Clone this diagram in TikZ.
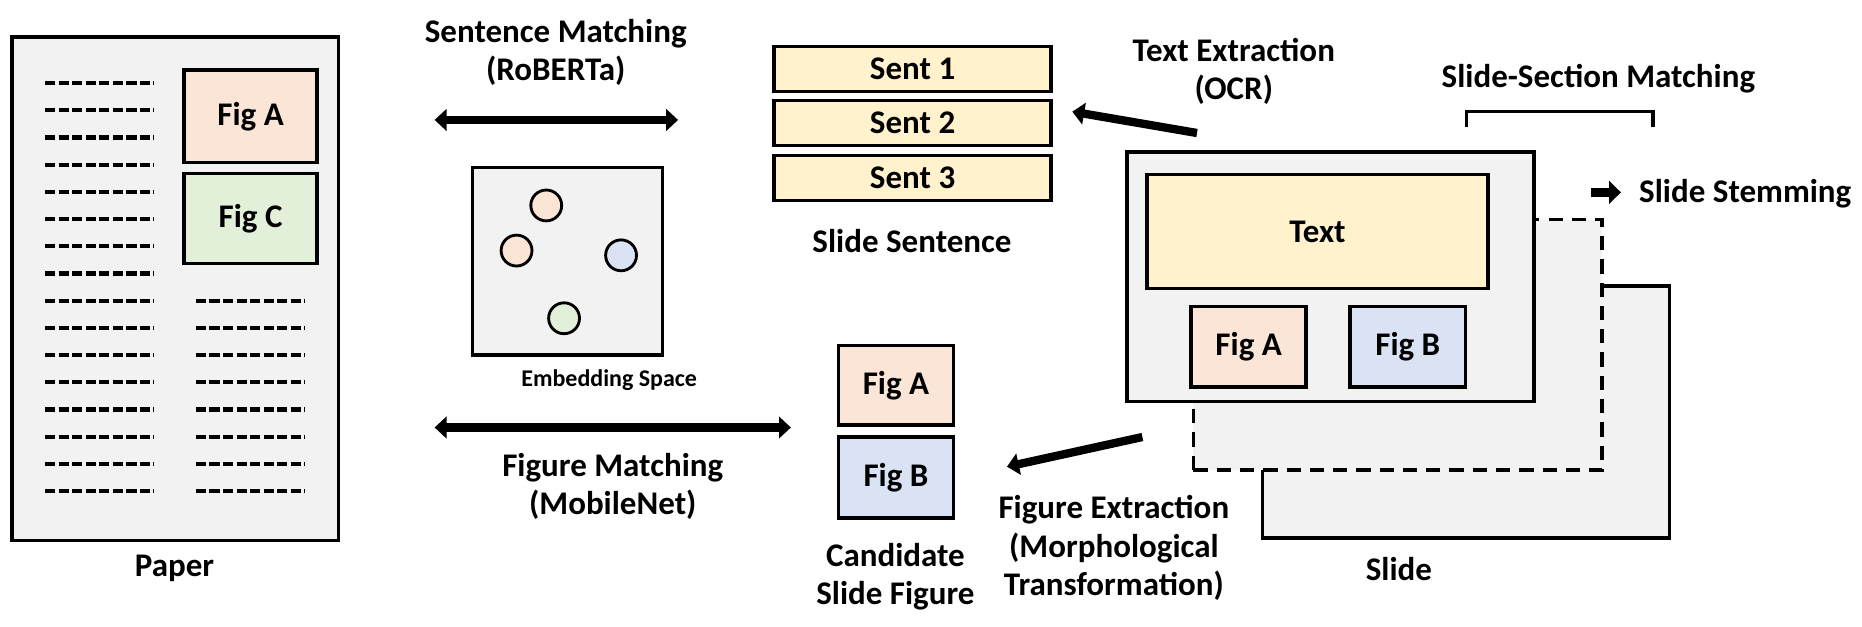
\documentclass[tikz,border=0pt]{standalone}
\usepackage{fontspec}
\setmainfont{Carlito}
\usetikzlibrary{arrows.meta}
\newcommand\lblfont{\fontsize{13.9}{16.2}\selectfont\bfseries}
\newcommand\smallfont{\fontsize{10.1}{12}\selectfont\bfseries}
\definecolor{bggray}{HTML}{F2F2F2}
\definecolor{peach}{HTML}{FBE5D6}
\definecolor{lgreen}{HTML}{E2F0D9}
\definecolor{lyellow}{HTML}{FFF2CC}
\definecolor{lblue}{HTML}{DAE3F3}
\tikzset{
  box/.style={draw=black, line width=1.5pt, inner sep=0pt, font=\lblfont},
  lbl/.style={font=\lblfont, align=center, inner sep=0pt},
  dot/.style={circle, draw=black, line width=1.2pt, minimum size=13pt, inner sep=0pt},
  txtline/.style={line width=1.8pt, dash pattern=on 4.3pt off 1.4pt},
  bigarrow/.style={line width=3.5pt, -{Triangle[length=5pt,width=9pt]}},
  dblarrow/.style={line width=3.5pt, {Triangle[length=5pt,width=9pt]}-{Triangle[length=5pt,width=9pt]}},
}
\begin{document}
\begin{tikzpicture}[x=0.5pt,y=-0.5pt]
\useasboundingbox (0,0) rectangle (1568,527.2);
% ---------- Paper ----------
\node[box, fill=bggray, minimum width=137.5pt, minimum height=212pt] (paper) at (147.5,243) {};
\node[box, fill=peach, minimum width=56pt, minimum height=39pt] (pfa) at (211,98) {Fig A};
\node[box, fill=lgreen, minimum width=56pt, minimum height=38pt] (pfc) at (211,184) {Fig C};
\foreach \k in {0,...,15} {
  \draw[txtline] (38,70+22.9*\k) -- (130,70+22.9*\k);
}
\foreach \k in {8,...,15} {
  \draw[txtline] (165,70+22.9*\k) -- (257,70+22.9*\k);
}
\node[lbl] (paperlbl) at (147,479) {Paper};
% ---------- Sentence matching ----------
\node[lbl] (smlbl) at (468,44) {Sentence Matching\\(RoBERTa)};
\coordinate (sm1) at (366,101);
\coordinate (sm2) at (571,101);
\draw[dblarrow] (sm1) -- (sm2);
% ---------- Embedding space ----------
\node[box, fill=bggray, minimum width=80pt, minimum height=79pt] (emb) at (478,220) {};
\node[dot, fill=peach] (d1) at (460,173) {};
\node[dot, fill=peach] (d2) at (435,211) {};
\node[dot, fill=lblue] (d3) at (523,215) {};
\node[dot, fill=lgreen] (d4) at (475,268) {};
\node[font=\smallfont, inner sep=0pt] (emblbl) at (513,320) {Embedding Space};
% ---------- Figure matching ----------
\coordinate (fm1) at (366,360);
\coordinate (fm2) at (666,360);
\draw[dblarrow] (fm1) -- (fm2);
\node[lbl] (fmlbl) at (516,409.5) {Figure Matching\\(MobileNet)};
% ---------- Slide sentences ----------
\node[box, fill=lyellow, minimum width=116.5pt, minimum height=19pt] (s1) at (768.5,58) {Sent 1};
\node[box, fill=lyellow, minimum width=116.5pt, minimum height=19pt] (s2) at (768.5,103.5) {Sent 2};
\node[box, fill=lyellow, minimum width=116.5pt, minimum height=19pt] (s3) at (768.5,150) {Sent 3};
\node[lbl] (sslbl) at (768,203) {Slide Sentence};
% ---------- Candidate slide figures ----------
\node[box, fill=peach, minimum width=48.5pt, minimum height=33.5pt] (cfa) at (754.5,324.5) {Fig A};
\node[box, fill=lblue, minimum width=48.5pt, minimum height=34pt] (cfb) at (754.5,402) {Fig B};
\node[lbl] (cflbl) at (754,485.5) {Candidate\\Slide Figure};
% ---------- Text extraction ----------
\node[lbl] (telbl) at (1039,60) {Text Extraction\\(OCR)};
\coordinate (te1) at (1008,112);
\coordinate (te2) at (903,94);
\draw[bigarrow] (te1) -- (te2);
% ---------- Figure extraction ----------
\node[lbl] (felbl) at (938,461.5) {Figure Extraction\\(Morphological\\Transformation)};
\coordinate (fe1) at (962,368);
\coordinate (fe2) at (848,393);
\draw[bigarrow] (fe1) -- (fe2);
% ---------- Slides ----------
\node[box, fill=bggray, minimum width=171.5pt, minimum height=106pt] (back) at (1234.5,347) {};
\node[box, fill=bggray, dash pattern=on 6pt off 3.8pt, minimum width=172pt, minimum height=105.5pt] (dash) at (1177,290.5) {};
\node[box, fill=bggray, minimum width=171.5pt, minimum height=105pt] (slide) at (1120.5,233) {};
\node[box, fill=lyellow, minimum width=143.5pt, minimum height=48pt] (text) at (1109.5,195) {Text};
\node[box, fill=peach, minimum width=48.5pt, minimum height=34pt] (sfa) at (1051.5,292) {Fig A};
\node[box, fill=lblue, minimum width=48.5pt, minimum height=34pt] (sfb) at (1185.5,292) {Fig B};
\node[lbl] (slidelbl) at (1178,479) {Slide};
% ---------- Slide-section matching ----------
\node[lbl] (sscmlbl) at (1346,66) {Slide-Section Matching};
\coordinate (br1) at (1235,107);
\coordinate (br2) at (1392,107);
\draw[line width=1.5pt] (br1) |- (1313.5,94) -| (br2);
% ---------- Slide stemming ----------
\coordinate (st1) at (1340,162);
\coordinate (st2) at (1365,162);
\draw[line width=4pt, -{Triangle[length=5pt,width=9.5pt]}] (st1) -- (st2);
\node[lbl, anchor=west] (stlbl) at (1380,163) {Slide Stemming};
\end{tikzpicture}
\end{document}
